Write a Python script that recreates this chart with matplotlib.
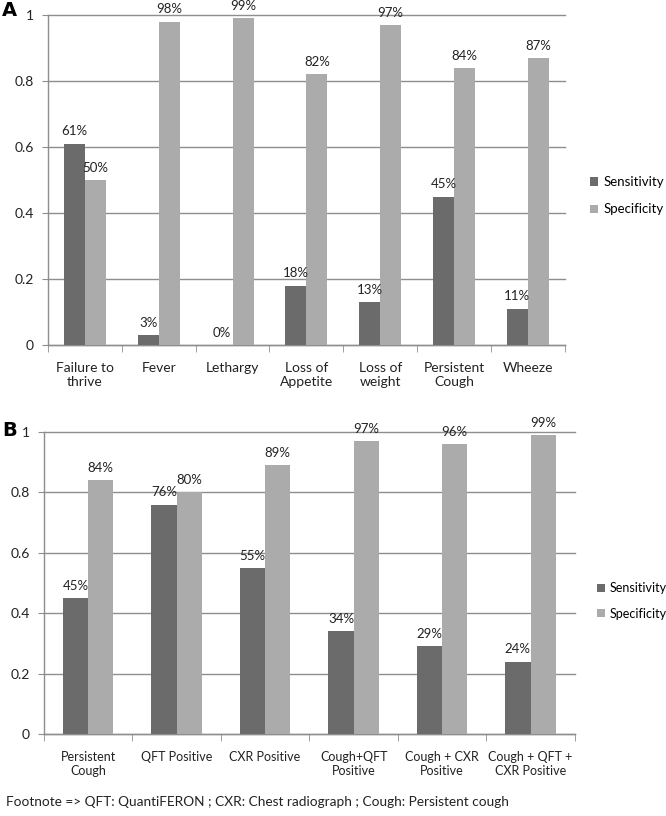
import numpy as np
import matplotlib
matplotlib.use("Agg")
import matplotlib.pyplot as plt

plt.rcParams['font.family'] = ['Lato', 'DejaVu Sans']

cats_a = ["Failure to\nthrive", "Fever", "Lethargy", "Loss of\nAppetite",
          "Loss of\nweight", "Persistent\nCough", "Wheeze"]
sens_a = [0.61, 0.03, 0.00, 0.18, 0.13, 0.45, 0.11]
spec_a = [0.50, 0.98, 0.99, 0.82, 0.97, 0.84, 0.87]

cats_b = ["Persistent\nCough", "QFT Positive", "CXR Positive", "Cough+QFT\nPositive",
          "Cough + CXR\nPositive", "Cough + QFT +\nCXR Positive"]
sens_b = [0.45, 0.76, 0.55, 0.34, 0.29, 0.24]
spec_b = [0.84, 0.80, 0.89, 0.97, 0.96, 0.99]

yticks = [0, 0.2, 0.4, 0.6, 0.8, 1.0]
ytick_labels = ["0", "0.2", "0.4", "0.6", "0.8", "1"]

dark = '#6b6b6b'
light = '#ababab'
grid_col = '#8e8e8e'

fig = plt.figure(figsize=(6.66, 8.16), dpi=100)


def panel(rect, cats, sens, spec, letter, letter_y, leg_x, leg_y, xfs, lfs, lsp):
    ax = fig.add_axes(rect)
    n = len(cats)
    x = np.arange(n)
    w = 0.285
    b1 = ax.bar(x - w / 2, sens, w, color=dark, label="Sensitivity", zorder=3)
    b2 = ax.bar(x + w / 2, spec, w, color=light, label="Specificity", zorder=3)
    for bars, vals in ((b1, sens), (b2, spec)):
        for b, v in zip(bars, vals):
            ax.annotate("{:.0f}%".format(v * 100), (b.get_x() + b.get_width() / 2, v),
                        xytext=(0, 4.5), textcoords='offset points', ha='center',
                        va='bottom', fontsize=9.5, color='#222222')
    ax.set_xlim(-0.5, n - 0.5)
    ax.set_ylim(0, 1)
    ax.set_yticks(yticks)
    ax.set_yticklabels(ytick_labels)
    ax.set_xticks(x)
    ax.set_xticklabels(cats)
    ax.set_xticks(np.arange(n + 1) - 0.5, minor=True)
    ax.tick_params(axis='x', which='major', length=0, pad=12, labelsize=xfs, colors='#222222')
    ax.tick_params(axis='x', which='minor', length=5, color=grid_col, direction='out')
    ax.tick_params(axis='y', length=4, color=grid_col, labelsize=10, colors='#222222', pad=6)
    ax.tick_params(axis='y', color=grid_col)
    for s in ('top', 'right'):
        ax.spines[s].set_visible(False)
    for s in ('left', 'bottom'):
        ax.spines[s].set_color(grid_col)
        ax.spines[s].set_linewidth(1.0)
    ax.yaxis.grid(True, color=grid_col, linewidth=1.0, zorder=0)
    ax.set_axisbelow(True)
    for gl in ax.get_ygridlines():
        gl.set_clip_on(False)
    fig.text(0.003, letter_y, letter, fontsize=14, fontweight='bold',
             family='DejaVu Sans', ha='left', va='center')
    fig.legend(handles=[b1, b2], loc='center left', bbox_to_anchor=(leg_x, leg_y),
               frameon=False, handlelength=0.6, handleheight=0.6, handletextpad=0.4,
               labelspacing=lsp, fontsize=lfs, borderaxespad=0, borderpad=0)
    return ax


panel([0.072, 1 - 345 / 816, 0.776, 330 / 816], cats_a, sens_a, spec_a, "A", 1 - 10 / 816,
      0.886, 0.760, 10, 9.5, 1.15)
panel([0.066, 0.1005, 0.797, 0.370], cats_b, sens_b, spec_b, "B", 1 - 431 / 816,
      0.897, 0.2635, 9, 9, 1.1)

fig.text(0.009, 0.010, "Footnote => QFT: QuantiFERON ; CXR: Chest radiograph ; Cough: Persistent cough",
         fontsize=9.8, color='#222222', ha='left', va='bottom')

fig.savefig("out.png", dpi=100, facecolor='white')
